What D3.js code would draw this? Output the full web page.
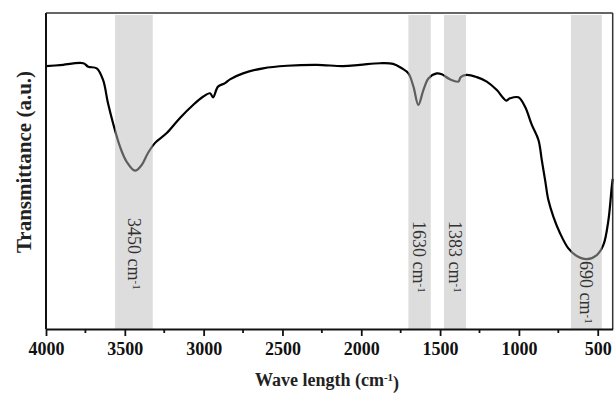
<!DOCTYPE html>
<html>
<head>
<meta charset="utf-8">
<script src="https://cdn.jsdelivr.net/npm/d3@7"></script>
<style>
  body { margin: 0; background: #fff; }
  text { font-family: "Liberation Serif", "Times New Roman", serif; }
</style>
</head>
<body>
<div id="chart"></div>
<script>
// spectrum
var wavenumber = [4000, 3911, 3763, 3732, 3678, 3638, 3607, 3575, 3530, 3488, 3435, 3393, 3353, 3308,
  3234, 3150, 3067, 3004, 2959, 2940, 2909, 2864, 2833, 2750, 2623, 2471, 2281, 2116, 2008, 1881,
  1798, 1743, 1701, 1669, 1638, 1606, 1574, 1521, 1489, 1437, 1384, 1369, 1331, 1267, 1204, 1140,
  1098, 1081, 1056, 1003, 961, 918, 876, 855, 834, 813, 781, 739, 686, 633, 569, 506, 464, 432, 411, 405];
var transmittance = [83.2, 83.5, 84.1, 83.0, 82.5, 78.8, 71.5, 65.2, 57.6, 52.9, 50.1, 51.9, 55.7, 58.9,
  62.0, 66.8, 70.9, 73.5, 74.6, 73.3, 76.7, 77.8, 79.0, 80.9, 82.5, 83.3, 83.6, 83.2, 83.6, 84.1,
  83.9, 82.5, 80.9, 76.7, 70.9, 75.6, 79.3, 80.9, 80.6, 79.0, 78.3, 79.7, 80.4, 79.7, 78.3, 75.6,
  73.0, 72.3, 73.0, 73.3, 70.3, 64.6, 59.8, 53.5, 47.2, 40.8, 35.5, 30.3, 25.5, 23.1, 22.1, 23.4, 26.6, 34.5, 45.0, 47.5];

// highlighted bands
var bandHigh = [3562, 1701, 1475, 670];
var bandLow = [3323, 1559, 1336, 474];
var bandLabels = ['3450', '1630', '1383', '690'];

var majorTicks = [4000, 3500, 3000, 2500, 2000, 1500, 1000, 500];
var minorTicks = [3750, 3250, 2750, 2250, 1750, 1250, 750];

var width = 614, height = 394;
var m = { left: 46, right: 612.7, top: 13, bottom: 329 };

var svg = d3.select('#chart').append('svg')
  .attr('width', width)
  .attr('height', height);

var x = d3.scaleLinear().domain([4000, 405]).range([m.left, m.right]);
var y = d3.scaleLinear().domain([0, 100]).range([m.bottom, m.top]);

var points = wavenumber.map(function (w, i) { return [w, transmittance[i]]; });

var line = d3.line()
  .x(function (d) { return x(d[0]); })
  .y(function (d) { return y(d[1]); })
  .curve(d3.curveCatmullRom);

svg.append('path')
  .datum(points)
  .attr('d', line)
  .attr('fill', 'none')
  .attr('stroke', '#000')
  .attr('stroke-width', 2.2);

// bands go over the curve, so the curve turns grey inside them
svg.selectAll('.band')
  .data(bandHigh)
  .enter()
  .append('rect')
  .attr('class', 'band')
  .attr('x', function (d) { return x(d); })
  .attr('width', function (d, i) { return x(bandLow[i]) - x(d); })
  .attr('y', m.top + 2)
  .attr('height', m.bottom - m.top - 2)
  .attr('fill', '#bcbcbc')
  .attr('opacity', 0.5);

var labelY = [218, 221, 221, 261];
var bl = svg.selectAll('.band-label')
  .data(bandLabels)
  .enter()
  .append('text')
  .attr('class', 'band-label')
  .attr('transform', function (d, i) {
    var cx = x((bandHigh[i] + bandLow[i]) / 2);
    return 'translate(' + cx + ',' + labelY[i] + ') rotate(90)';
  })
  .attr('dy', '0.35em')
  .style('font-size', '18px')
  .style('fill', '#333');
bl.append('tspan').text(function (d) { return d + ' cm'; });
bl.append('tspan').attr('dy', '-0.45em').style('font-size', '11px').text('-1');

// frame
svg.append('line').attr('x1', m.left).attr('x2', m.right).attr('y1', m.top).attr('y2', m.top)
  .attr('stroke', '#333').attr('stroke-width', 1.5);
svg.append('line').attr('x1', m.right).attr('x2', m.right).attr('y1', m.top).attr('y2', m.bottom)
  .attr('stroke', '#333').attr('stroke-width', 1.5);
svg.append('line').attr('x1', m.left).attr('x2', m.left).attr('y1', m.top).attr('y2', m.bottom)
  .attr('stroke', '#111').attr('stroke-width', 2);

var xAxis = svg.append('g')
  .attr('transform', 'translate(0,' + m.bottom + ')')
  .call(d3.axisBottom(x).tickValues(majorTicks).tickFormat(d3.format('d'))
    .tickSize(7).tickSizeOuter(0).tickPadding(6));
xAxis.select('.domain').attr('stroke', '#111').attr('stroke-width', 2);
xAxis.selectAll('.tick line').attr('stroke', '#111').attr('stroke-width', 1.8);
xAxis.selectAll('.tick text')
  .style('font-family', '"Liberation Serif", serif')
  .style('font-size', '18px')
  .style('font-weight', 'bold')
  .style('fill', '#111');

svg.append('g').selectAll('line')
  .data(minorTicks)
  .enter()
  .append('line')
  .attr('x1', function (d) { return x(d); })
  .attr('x2', function (d) { return x(d); })
  .attr('y1', m.bottom)
  .attr('y2', m.bottom + 4)
  .attr('stroke', '#111')
  .attr('stroke-width', 1.8);

// axis titles
var xt = svg.append('text')
  .attr('x', 327)
  .attr('y', 386)
  .attr('text-anchor', 'middle')
  .style('font-size', '18px')
  .style('font-weight', 'bold')
  .style('fill', '#222');
xt.append('tspan').text('Wave length (cm');
xt.append('tspan').attr('dy', '-0.45em').style('font-size', '11px').text('-1');
xt.append('tspan').attr('dy', '0.45em').text(')');

svg.append('text')
  .attr('transform', 'translate(24,162) rotate(-90)')
  .attr('text-anchor', 'middle')
  .attr('dy', '0.35em')
  .style('font-size', '21px')
  .style('font-weight', 'bold')
  .style('fill', '#222')
  .text('Transmittance (a.u.)');
</script>
</body>
</html>
